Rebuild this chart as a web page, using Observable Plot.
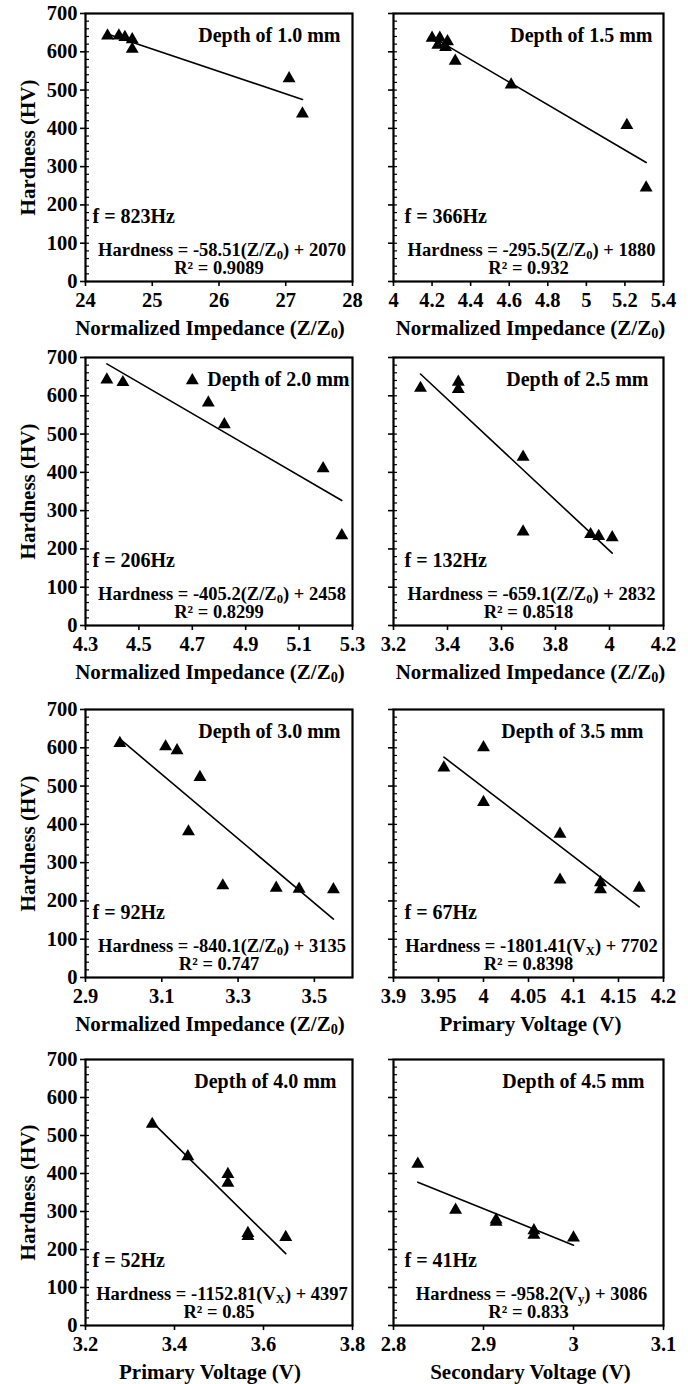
<!DOCTYPE html>
<html>
<head>
<meta charset="utf-8">
<script src="https://cdn.jsdelivr.net/npm/d3@7"></script>
<script src="https://cdn.jsdelivr.net/npm/@observablehq/plot@0.6"></script>
<style>
  body { margin: 0; background: white; }
  #wrap { position: relative; width: 688px; height: 1384px; background: white; overflow: hidden; }
</style>
</head>
<body>
<div id="wrap"></div>
<script>
// ---- Data ----
const depthLabels = ["Depth of 1.0 mm", "Depth of 1.5 mm", "Depth of 2.0 mm", "Depth of 2.5 mm",
                     "Depth of 3.0 mm", "Depth of 3.5 mm", "Depth of 4.0 mm", "Depth of 4.5 mm"];
const freqsHz = [823, 366, 206, 132, 92, 67, 52, 41];

const x_d10 = [24.33, 24.50, 24.59, 24.70, 24.70, 27.05, 27.25];
const hv_d10 = [642, 642, 638, 632, 607, 530, 438];
const x_d15 = [4.20, 4.24, 4.28, 4.23, 4.27, 4.32, 4.61, 5.21, 5.31];
const hv_d15 = [636, 636, 627, 618, 612, 576, 514, 408, 245];
const x_d20 = [4.38, 4.44, 4.70, 4.76, 4.82, 5.19, 5.26];
const hv_d20 = [642, 635, 640, 582, 525, 410, 235];
const x_d25 = [3.30, 3.44, 3.44, 3.68, 3.68, 3.93, 3.96, 4.01];
const hv_d25 = [620, 636, 617, 440, 245, 238, 233, 230];
const x_d30 = [2.99, 3.11, 3.14, 3.20, 3.17, 3.26, 3.40, 3.46, 3.55];
const hv_d30 = [612, 603, 593, 523, 381, 240, 234, 231, 230];
const x_d35 = [3.956, 4.000, 4.000, 4.085, 4.085, 4.130, 4.130, 4.173];
const hv_d35 = [548, 601, 458, 375, 255, 248, 230, 234];
const x_d40 = [3.35, 3.43, 3.52, 3.52, 3.565, 3.565, 3.65];
const hv_d40 = [530, 445, 398, 375, 243, 235, 232];
const x_d45 = [2.827, 2.869, 2.914, 2.914, 2.956, 2.956, 3.000];
const hv_d45 = [425, 304, 278, 272, 250, 238, 231];

const slopes = [-58.51, -295.5, -405.2, -659.1, -840.1, -1801.41, -1152.81, -958.2];
const intercepts = [2070, 1880, 2458, 2832, 3135, 7702, 4397, 3086];
const r2 = [0.9089, 0.932, 0.8299, 0.8518, 0.747, 0.8398, 0.85, 0.833];
const varNames = ["Z/Z_0", "Z/Z_0", "Z/Z_0", "Z/Z_0", "Z/Z_0", "V_X", "V_X", "V_y"];
const xAxisLabels = ["Normalized Impedance (Z/Z_0)", "Normalized Impedance (Z/Z_0)",
                     "Normalized Impedance (Z/Z_0)", "Normalized Impedance (Z/Z_0)",
                     "Normalized Impedance (Z/Z_0)", "Primary Voltage (V)",
                     "Primary Voltage (V)", "Secondary Voltage (V)"];
const yAxisLabel = "Hardness (HV)";

const xDomains = [[24, 28], [4, 5.4], [4.3, 5.3], [3.2, 4.2], [2.9, 3.6], [3.9, 4.2], [3.2, 3.8], [2.8, 3.1]];
const xTicks = [
  [24, 25, 26, 27, 28],
  [4, 4.2, 4.4, 4.6, 4.8, 5, 5.2, 5.4],
  [4.3, 4.5, 4.7, 4.9, 5.1, 5.3],
  [3.2, 3.4, 3.6, 3.8, 4, 4.2],
  [2.9, 3.1, 3.3, 3.5],
  [3.9, 3.95, 4, 4.05, 4.1, 4.15, 4.2],
  [3.2, 3.4, 3.6, 3.8],
  [2.8, 2.9, 3, 3.1]
];
const yDomain = [0, 700];
const yMajor = [0, 100, 200, 300, 400, 500, 600, 700];
const yMinor = d3.range(0, 701, 20);

const xs = [x_d10, x_d15, x_d20, x_d25, x_d30, x_d35, x_d40, x_d45];
const hvs = [hv_d10, hv_d15, hv_d20, hv_d25, hv_d30, hv_d35, hv_d40, hv_d45];

// ---- Layout (pixels) ----
const rowTops = [0, 344, 696, 1046];
const rowHeights = [340, 340, 340, 338];
const depthDx = [-12, -11, -3, -15, -12, -20, -16, -19];
const FONT = "'Liberation Serif', 'Times New Roman', serif";

function applySubscripts(svg) {
  svg.querySelectorAll("text").forEach(t => {
    const targets = t.querySelectorAll("tspan").length ? Array.from(t.querySelectorAll("tspan")) : [t];
    targets.forEach(el => {
      const s = el.textContent;
      if (!/_\w/.test(s)) return;
      const parts = s.split(/_(\w)/);
      el.textContent = "";
      parts.forEach((p, i) => {
        if (p === "") return;
        const ts = document.createElementNS("http://www.w3.org/2000/svg", "tspan");
        ts.textContent = p;
        if (i % 2 === 1) {
          ts.setAttribute("font-size", "68%");
          ts.setAttribute("baseline-shift", "-22%");
        }
        el.appendChild(ts);
      });
    });
  });
}

const wrap = document.getElementById("wrap");

for (let i = 0; i < 8; i++) {
  const col = i % 2, row = Math.floor(i / 2);
  const isLeft = col === 0;
  const data = xs[i].map((x, j) => ({x, hv: hvs[i][j]}));
  const [x0, x1] = d3.extent(xs[i]);
  const fit = [x0, x1].map(x => ({x, hv: slopes[i] * x + intercepts[i]}));
  const eq = `Hardness = ${slopes[i]}(${varNames[i]}) + ${intercepts[i]}`;
  const r2txt = `R² = ${r2[i]}`;
  const width = isLeft ? 362 : 344;
  const marginLeft = isLeft ? 85 : 49;
  const marginRight = isLeft ? 10 : 25;
  const height = rowHeights[row];

  const marks = [
    Plot.line(fit, {x: "x", y: "hv", stroke: "black", strokeWidth: 1.6}),
    Plot.dot(data, {x: "x", y: "hv", symbol: "triangle", r: 4.8, fill: "black", stroke: null}),
    Plot.axisX(xTicks[i], {tickSize: 5, tickPadding: 6, label: null, fontSize: 20.5, fontWeight: "bold",
                           tickFormat: d => String(d), strokeWidth: 1.6}),
    Plot.axisY(yMajor, {tickSize: 5, tickPadding: 3, label: null, fontSize: 20.5, fontWeight: "bold",
                        tickFormat: isLeft ? (d => String(d)) : (() => ""), strokeWidth: 1.6}),
    Plot.axisY(yMinor, {tickSize: 4, dx: 4, tickPadding: 0, label: null, tickFormat: () => "", strokeWidth: 1.2}),
    Plot.frame({stroke: "black", strokeWidth: 2.2}),
    Plot.text([depthLabels[i]], {frameAnchor: "top-right", textAnchor: "end", lineAnchor: "middle",
                                 dx: depthDx[i], dy: 22, fontSize: 20, fontWeight: "bold"}),
    Plot.text([`f = ${freqsHz[i]}Hz`], {frameAnchor: "bottom-left", textAnchor: "start", lineAnchor: "middle",
                                        dx: isLeft ? 7 : 11, dy: -65, fontSize: 20, fontWeight: "bold"}),
    Plot.text([eq], {frameAnchor: "bottom", textAnchor: "middle", lineAnchor: "middle",
                     dx: 3, dy: -31, fontSize: 18.5, fontWeight: "bold"}),
    Plot.text([r2txt], {frameAnchor: "bottom", textAnchor: "middle", lineAnchor: "middle",
                        dx: 0, dy: -13, fontSize: 18.5, fontWeight: "bold"}),
    Plot.text([xAxisLabels[i]], {frameAnchor: "bottom", textAnchor: "middle", lineAnchor: "middle",
                                 dx: isLeft ? -9 : 2, dy: 47, fontSize: 21, fontWeight: "bold"})
  ];
  if (isLeft) {
    marks.push(Plot.text([yAxisLabel], {frameAnchor: "left", textAnchor: "middle", lineAnchor: "middle",
                                        rotate: -90, dx: -57, fontSize: 21, fontWeight: "bold"}));
  }

  const svg = Plot.plot({
    width, height,
    marginTop: 13, marginBottom: height - 13 - (row === 3 ? 266 : 268),
    marginLeft, marginRight,
    x: {domain: xDomains[i]},
    y: {domain: yDomain},
    style: {fontFamily: FONT, fontWeight: "bold", color: "black", background: "transparent", overflow: "visible"},
    marks
  });
  applySubscripts(svg);
  svg.style.position = "absolute";
  svg.style.left = (isLeft ? 0 : 344) + "px";
  svg.style.top = rowTops[row] + "px";
  wrap.appendChild(svg);
}
</script>
</body>
</html>
